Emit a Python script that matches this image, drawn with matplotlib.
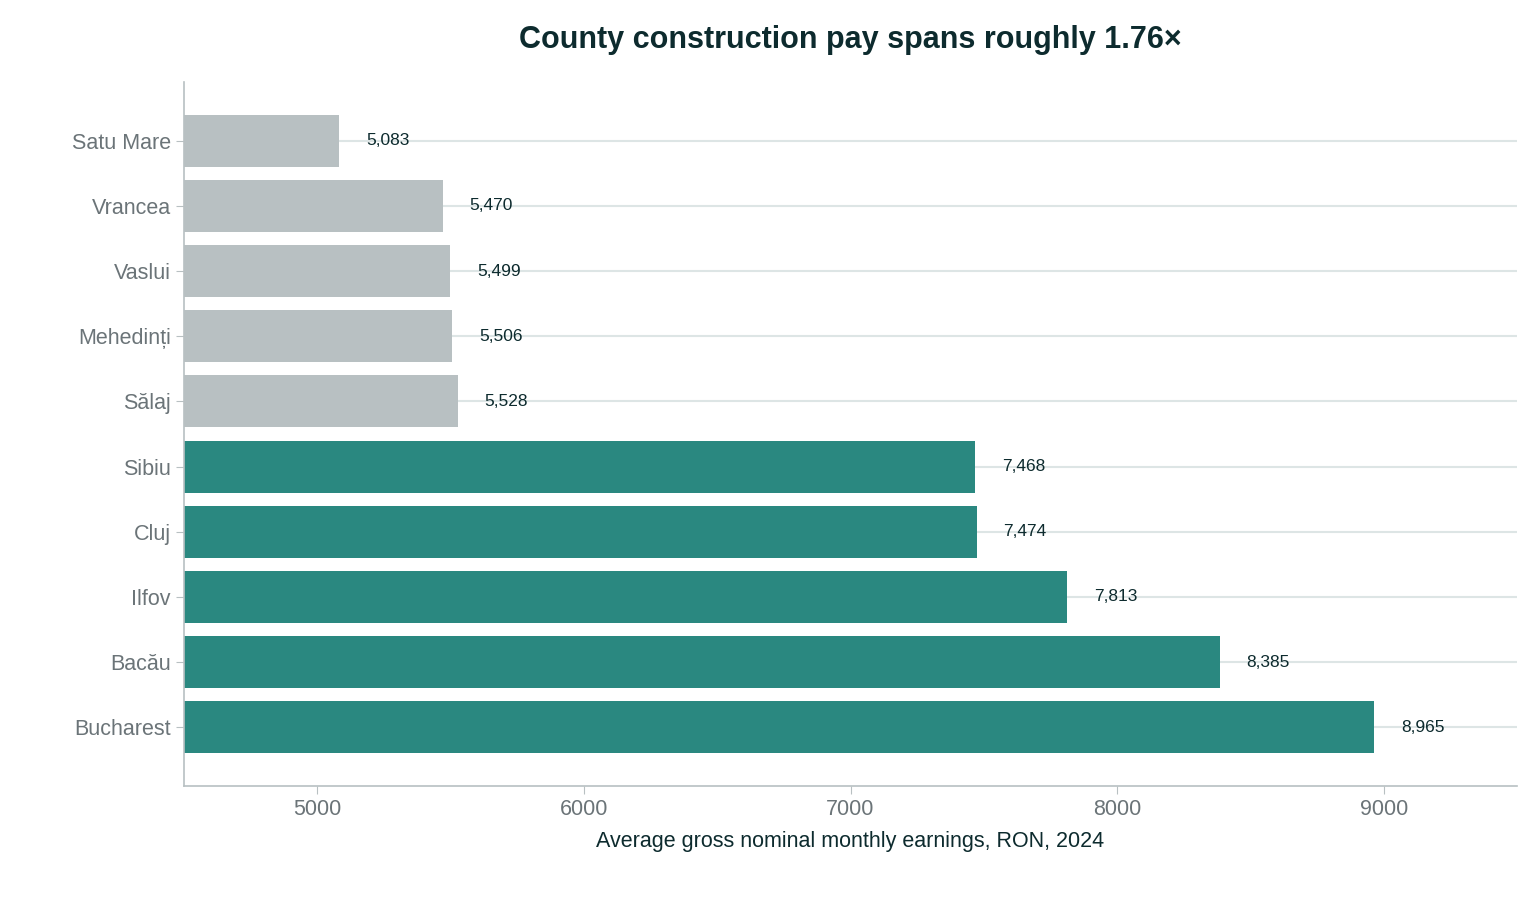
import matplotlib
matplotlib.use("Agg")
from matplotlib import pyplot as plt

plt.rcParams['font.family'] = ['Liberation Sans', 'DejaVu Sans']

counties = ['Satu Mare', 'Vrancea', 'Vaslui', 'Mehedinți', 'Sălaj',
            'Sibiu', 'Cluj', 'Ilfov', 'Bacău', 'Bucharest']
earnings = [5083, 5470, 5499, 5506, 5528, 7468, 7474, 7813, 8385, 8965]
is_top = [False] * 5 + [True] * 5

TEAL = '#2a8880'
GREY = '#b8c0c2'
DARK = '#0d2b2e'
TICK = '#6b7478'

fig = plt.figure(figsize=(15.39, 9.02), dpi=100)
ax = fig.add_axes([184 / 1539, 1 - 786 / 902, (1517 - 184) / 1539, (786 - 82) / 902])

base = 4500
colors = [TEAL if t else GREY for t in is_top]
ypos = list(range(len(counties)))
ax.barh(ypos, [v - base for v in earnings], left=base, height=0.8, color=colors, zorder=2)

for y, v in zip(ypos, earnings):
    ax.text(v + 100, y, f"{v:,}", va='center', ha='left', fontsize=12.5, color=DARK)

ax.set_xlim(4500, 9500)
ax.set_ylim(9.9, -0.9)
ax.set_yticks(ypos)
ax.set_yticklabels(counties)
ax.set_xticks([5000, 6000, 7000, 8000, 9000])
ax.tick_params(axis='both', colors='#b8c0c2', labelcolor=TICK, labelsize=15.5, length=6)
ax.grid(axis='y', color='#dde5e5', linewidth=1.5, zorder=0)
for s in ['top', 'right']:
    ax.spines[s].set_visible(False)
for s in ['left', 'bottom']:
    ax.spines[s].set_color('#b8c0c2')
    ax.spines[s].set_linewidth(1.2)

ax.set_xlabel("Average gross nominal monthly earnings, RON, 2024", fontsize=15.5, color=DARK, labelpad=8)
fig.text(850 / 1539, 1 - 40 / 902, "County construction pay spans roughly 1.76×",
         ha='center', va='center', fontsize=22, fontweight='bold', color=DARK)

fig.savefig("out.png", dpi=100)
